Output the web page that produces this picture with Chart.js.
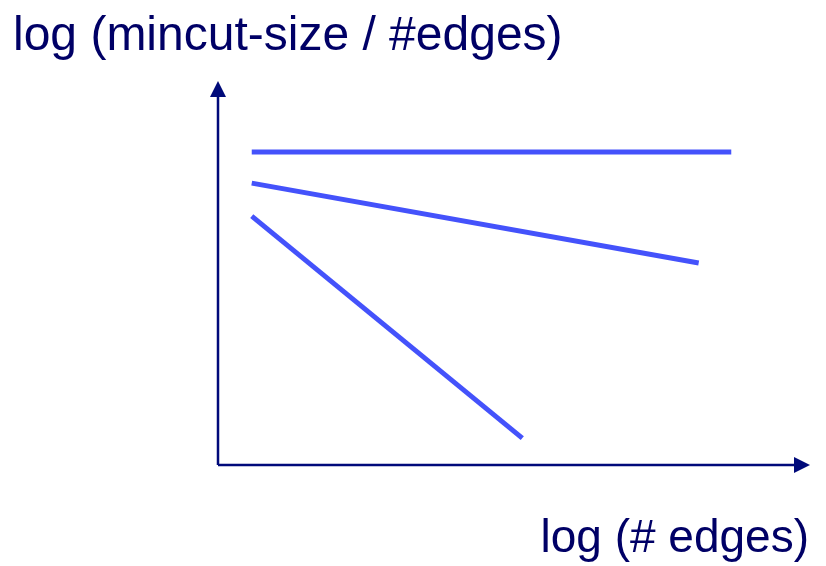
<!DOCTYPE html>
<html>
<head>
<meta charset="utf-8">
<script src="https://cdn.jsdelivr.net/npm/chart.js@4"></script>
<style>
  html, body { margin: 0; padding: 0; background: #ffffff; }
  #wrap { width: 826px; height: 566px; position: relative; }
</style>
</head>
<body>
<div id="wrap"><canvas id="chart"></canvas></div>
<script>
// Sketch: three trends of log(mincut-size / #edges) vs log(# edges)
const yAxisLabel = 'log (mincut-size / #edges)';
const xAxisLabel = 'log (# edges)';

// each line is [start, end] in axis units (0..100 both ways)
const flatLine = [{ x: 5.7, y: 81.5 }, { x: 86.7, y: 81.5 }];
const gentleLine = [{ x: 5.7, y: 73.4 }, { x: 81.2, y: 52.6 }];
const steepLine = [{ x: 5.7, y: 64.8 }, { x: 51.4, y: 7.0 }];

const lineColor = '#4452fb';
const axisColor = '#000a7a';
const textColor = '#000066';

// Axes with arrowheads plus the two labels
const axesPlugin = {
    id: 'arrowAxes',
    afterDraw(chart) {
        const ctx = chart.ctx;
        const area = chart.chartArea;
        ctx.save();

        ctx.strokeStyle = axisColor;
        ctx.fillStyle = axisColor;
        ctx.lineWidth = 2.5;

        // y axis
        ctx.beginPath();
        ctx.moveTo(area.left, area.bottom);
        ctx.lineTo(area.left, area.top + 14);
        ctx.stroke();
        ctx.beginPath();
        ctx.moveTo(area.left, area.top);
        ctx.lineTo(area.left - 8, area.top + 16);
        ctx.lineTo(area.left + 8, area.top + 16);
        ctx.closePath();
        ctx.fill();

        // x axis
        ctx.beginPath();
        ctx.moveTo(area.left, area.bottom);
        ctx.lineTo(area.right - 14, area.bottom);
        ctx.stroke();
        ctx.beginPath();
        ctx.moveTo(area.right, area.bottom);
        ctx.lineTo(area.right - 16, area.bottom - 8);
        ctx.lineTo(area.right - 16, area.bottom + 8);
        ctx.closePath();
        ctx.fill();

        // labels
        ctx.fillStyle = textColor;
        ctx.textBaseline = 'alphabetic';
        ctx.textAlign = 'left';
        ctx.font = '48px "Liberation Sans", Arial, sans-serif';
        ctx.fillText(yAxisLabel, 13, 50);
        ctx.textAlign = 'right';
        ctx.font = '46px "Liberation Sans", Arial, sans-serif';
        ctx.fillText(xAxisLabel, 809, 552);

        ctx.restore();
    }
};

const lineStyle = {
    borderColor: lineColor,
    borderWidth: 5,
    pointRadius: 0,
    fill: false,
    tension: 0,
    borderCapStyle: 'butt'
};

new Chart(document.getElementById('chart'), {
    type: 'line',
    data: {
        datasets: [
            { label: 'flat', data: flatLine, ...lineStyle },
            { label: 'gentle', data: gentleLine, ...lineStyle },
            { label: 'steep', data: steepLine, ...lineStyle }
        ]
    },
    options: {
        responsive: true,
        maintainAspectRatio: false,
        animation: false,
        layout: {
            padding: { left: 218, right: 16, top: 81, bottom: 101 }
        },
        plugins: {
            legend: { display: false },
            tooltip: { enabled: false },
            title: { display: false }
        },
        scales: {
            x: { type: 'linear', min: 0, max: 100, display: false },
            y: { type: 'linear', min: 0, max: 100, display: false }
        }
    },
    plugins: [axesPlugin]
});
</script>
</body>
</html>
